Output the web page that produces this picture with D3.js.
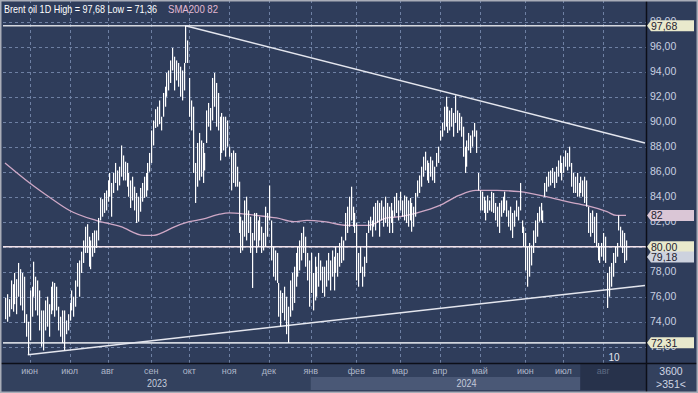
<!DOCTYPE html>
<html><head><meta charset="utf-8">
<script src="https://cdn.jsdelivr.net/npm/d3@7"></script>
<style>html,body{margin:0;padding:0;background:#2f3d5b;overflow:hidden}</style>
</head><body><svg id="c" width="698" height="393"></svg>
<script>
// ---- data (daily bars) ----
const hi = [75.9,76.2,75.8,77.3,77.0,77.9,77.4,78.7,78.2,77.9,77.6,74.6,74.0,76.5,76.8,78.8,77.6,77.3,76.5,74.9,
74.9,75.7,76.0,75.4,76.8,77.2,77.1,76.8,75.2,74.4,74.9,74.9,74.1,74.6,75.5,76.5,76.0,77.3,78.7,78.9,
79.6,80.5,81.6,81.8,80.8,80.5,81.1,81.3,81.3,82.3,83.9,83.8,84.3,84.5,85.3,85.9,85.1,85.9,86.7,86.1,
86.4,88.1,87.3,86.8,86.7,85.9,85.3,85.6,84.8,84.3,84.0,84.7,85.1,85.6,85.9,86.7,87.5,89.3,90.1,91.0,
91.2,91.7,90.4,92.3,92.8,93.9,94.1,94.9,95.9,95.2,94.9,94.7,94.4,94.1,94.7,97.68,96.5,93.5,91.7,91.2,
86.7,88.3,89.1,88.5,88.3,87.5,90.9,91.5,91.1,93.5,93.9,93.1,92.3,90.4,90.7,90.4,90.4,90.1,88.0,87.5,
87.7,87.5,86.4,85.2,82.4,82.1,83.7,84.0,82.9,82.4,81.1,82.7,82.7,82.1,82.4,81.6,81.1,83.2,82.7,84.9,
82.1,80.0,79.7,79.5,77.1,76.5,76.3,76.8,76.0,75.2,77.3,77.9,78.4,79.5,80.0,80.5,81.1,81.6,80.8,79.5,
78.9,79.5,77.9,79.2,78.4,79.5,78.9,78.4,78.4,78.9,79.5,78.9,79.7,79.2,80.0,79.5,80.3,80.8,80.5,82.7,
83.2,84.0,84.8,83.2,82.7,81.9,79.5,80.0,78.4,79.2,81.1,82.1,82.4,82.1,83.2,83.5,83.7,83.5,83.7,83.2,
84.0,83.5,83.2,83.5,82.9,84.0,84.3,83.7,84.4,83.7,84.1,84.0,83.7,83.9,83.5,83.2,84.3,85.3,85.7,86.4,
87.2,87.6,86.9,86.7,87.2,86.9,86.4,87.5,88.0,89.3,89.9,91.2,92.0,91.2,90.9,91.1,90.7,92.1,90.9,90.7,
90.4,89.6,88.0,88.5,89.1,88.9,89.3,89.9,89.3,85.9,84.5,84.4,84.0,83.7,84.1,83.7,84.4,84.3,83.5,83.2,
83.5,83.7,84.0,84.4,83.7,82.9,83.2,82.7,82.9,83.7,83.2,85.1,82.1,81.6,81.1,80.0,80.3,80.1,81.3,82.1,
82.7,83.2,83.5,82.9,85.1,85.6,86.0,86.1,86.3,86.0,86.4,86.9,87.3,86.7,87.2,87.7,87.5,88.0,86.7,85.9,
85.6,85.9,85.1,85.6,85.3,85.6,85.3,83.2,82.7,82.9,82.4,82.7,80.3,80.0,80.3,81.1,80.8,77.9,78.4,78.7,
79.5,80.0,80.3,82.5,81.6,81.3,81.1,80.5];
const lo = [74.2,74.0,74.4,75.0,74.8,75.4,74.6,76.0,75.3,74.9,73.9,72.8,71.36,72.5,74.4,76.0,74.9,74.5,73.3,72.0,
71.7,73.3,73.6,72.8,74.6,74.9,74.4,74.9,73.3,72.8,72.3,71.7,73.0,73.3,74.1,74.9,74.4,75.2,76.8,76.0,
77.9,78.7,79.5,79.5,78.4,78.2,79.2,79.5,79.9,80.5,82.1,82.4,82.7,82.9,83.6,84.0,82.4,84.3,85.1,84.5,
84.9,85.6,85.3,85.3,84.8,84.0,83.1,83.7,82.9,81.9,82.0,82.8,83.6,83.9,84.0,84.5,86.0,86.7,88.1,89.5,
89.6,89.8,89.3,90.4,91.2,92.0,92.5,93.1,94.1,92.5,93.3,92.8,92.0,91.7,92.5,94.7,94.7,90.4,89.3,85.9,
83.5,84.8,85.3,85.6,85.1,86.1,88.3,89.6,89.3,90.1,91.2,89.6,89.3,86.9,87.5,87.7,87.2,88.0,87.2,84.5,
85.1,84.8,84.8,81.1,79.5,79.7,80.8,80.5,81.1,79.5,76.7,80.5,79.5,80.0,80.5,79.5,79.7,80.0,80.8,82.1,
78.9,77.6,77.3,77.1,74.4,73.6,74.7,74.1,73.0,72.31,74.4,74.9,75.5,76.8,77.6,78.1,78.9,79.5,78.4,77.3,
75.2,76.3,74.9,75.7,76.0,76.8,77.3,76.3,76.0,76.8,77.3,76.5,77.6,76.5,77.9,77.6,78.4,78.7,78.9,80.5,
81.1,81.6,82.1,81.6,81.1,77.3,76.8,77.9,76.8,77.6,78.7,81.1,81.3,80.8,81.6,81.3,81.9,80.8,82.1,81.6,
81.9,81.6,81.1,81.9,81.1,82.4,82.7,82.1,82.9,82.4,82.1,81.9,81.6,82.1,81.2,81.6,82.4,84.0,84.3,84.8,
85.6,86.1,85.3,85.1,85.6,85.3,85.1,86.4,86.7,88.5,88.8,89.3,89.6,89.1,89.3,89.6,88.8,89.9,89.1,89.3,
88.8,87.2,85.9,86.4,87.7,87.5,88.0,88.8,87.5,84.5,82.9,82.9,82.7,82.1,82.7,82.9,82.8,82.7,82.1,81.6,
81.1,82.4,82.7,82.9,82.4,81.6,81.3,80.7,81.6,82.4,82.1,82.9,81.1,80.0,78.1,76.8,77.6,78.5,79.5,80.3,
80.8,82.0,82.1,81.9,84.0,84.4,84.8,84.9,85.1,84.7,85.1,85.6,85.9,85.3,85.9,86.4,86.1,86.4,84.8,84.3,
84.3,84.0,84.0,84.3,84.0,83.5,83.2,81.1,80.8,81.1,80.3,80.0,78.9,78.7,79.2,78.9,78.7,75.1,76.0,76.8,
77.6,78.7,79.2,81.3,80.0,79.5,78.7,78.9];
const lastClose = 79.18;
// SMA200 read at sample bars
const smaIdx = [0,13,24,34,48,61,73,78,84,88,97,104,113,118,127,138,143,152,159,168,180,191,201,208,217,229,239,248,259,271,285,296,306,317,322,327];
const smaVal = [86.7,85.1,83.9,82.9,82.1,81.6,80.9,80.9,81.2,81.5,82.0,82.2,82.6,82.7,82.6,82.4,82.3,82.0,82.1,82.0,81.7,81.7,82.3,82.4,82.7,83.3,84.1,84.5,84.5,84.4,84.0,83.6,83.3,82.8,82.5,82.5];
// trendlines: [start bar, start price, end bar, end price]
const trendUpper = [95, 97.68, 337, 88.3];
const trendLower = [12, 71.36, 337, 76.9];
const levels = [97.68, 80.00, 72.31];
const monthIdx = [13,34,54,77,97,118,139,161,185,208,229,250,274,294,315];
const monthLabels = ['июн','июл','авг','сен','окт','ноя','дек','янв','фев','мар','апр','май','июн','июл','авг'];
const yearIdx = [80, 243];
const yearLabels = ['2023','2024'];
const priceTicks = [72,74,76,78,80,82,84,86,88,90,92,94,96,98];

// ---- drawing ----
const W = 698, H = 393;
const plotL = 3, plotR = 646, plotT = 0, plotB = 363;
const svg = d3.select('#c');
const x = d3.scaleLinear().domain([0, hi.length - 1]).range([5, 626]);
const y = d3.scaleLinear().domain([72, 96]).range([346.7, 46.7]);
const fmt = v => d3.format('.2f')(v).replace('.', ',');

svg.append('rect').attr('width', W).attr('height', H).attr('fill', '#2f3d5b');
// bottom axis panel
svg.append('rect').attr('x', 0).attr('y', plotB).attr('width', W).attr('height', H - plotB).attr('fill', '#33415e');
svg.append('rect').attr('x', x(161)).attr('y', 377).attr('width', x(294) + 17 - x(161)).attr('height', 13).attr('fill', '#4a5876');
svg.append('rect').attr('x', x(294) + 17).attr('y', plotB + 1).attr('width', plotR - x(294) - 17).attr('height', 26).attr('fill', '#27324b');

svg.append('defs').append('clipPath').attr('id', 'pc').append('rect')
  .attr('x', plotL).attr('y', plotT).attr('width', plotR - plotL).attr('height', plotB - plotT);
const g = svg.append('g').attr('clip-path', 'url(#pc)');

// grid
g.selectAll('.vg').data(monthIdx).join('line')
  .attr('x1', d => Math.round(x(d)) + 0.5).attr('x2', d => Math.round(x(d)) + 0.5)
  .attr('y1', 0).attr('y2', plotB)
  .attr('stroke', '#6e80a3').attr('stroke-width', 1).attr('stroke-dasharray', '3,3');
g.selectAll('.hg').data(priceTicks).join('line')
  .attr('x1', plotL).attr('x2', plotR)
  .attr('y1', d => Math.round(y(d)) + 0.5).attr('y2', d => Math.round(y(d)) + 0.5)
  .attr('stroke', '#6e80a3').attr('stroke-width', 1).attr('stroke-dasharray', '3,3');

// level lines
const levelColor = ['#d6d8de', '#f2e2ea', '#d0d4dc'];
g.selectAll('.lv').data(levels).join('line')
  .attr('x1', plotL).attr('x2', plotR)
  .attr('y1', d => y(d)).attr('y2', d => y(d))
  .attr('stroke', (d, i) => levelColor[i]).attr('stroke-width', 1.6);

// SMA
const smaPts = smaIdx.map((d, i) => [d, smaVal[i]]);
g.append('path').datum(smaPts)
  .attr('d', d3.line().x(d => x(d[0])).y(d => y(d[1])).curve(d3.curveMonotoneX))
  .attr('fill', 'none').attr('stroke', '#cfa8c6').attr('stroke-width', 1.3);

// trendlines
[trendUpper, trendLower].forEach(t => {
  g.append('line').attr('x1', x(t[0])).attr('y1', y(t[1])).attr('x2', x(t[2])).attr('y2', y(t[3]))
    .attr('stroke', '#e4e6ee').attr('stroke-width', 1.5);
});

// bars
g.selectAll('.bar').data(hi).join('rect')
  .attr('x', (d, i) => Math.round(x(i)))
  .attr('y', d => y(d))
  .attr('width', 1.2)
  .attr('height', (d, i) => Math.max(1, y(lo[i]) - y(d)))
  .attr('fill', '#ffffff');

// frame lines
svg.append('line').attr('x1', plotR + 0.5).attr('x2', plotR + 0.5).attr('y1', 0).attr('y2', H).attr('stroke', '#0c0f18').attr('stroke-width', 1.5);
svg.append('line').attr('x1', 0).attr('x2', W).attr('y1', plotB + 0.5).attr('y2', plotB + 0.5).attr('stroke', '#0c0f18').attr('stroke-width', 1.5);

// right axis labels
svg.selectAll('.pt').data(priceTicks).join('text')
  .attr('x', 650).attr('y', d => y(d) + 3.5)
  .attr('font-family', 'Liberation Sans, Arial, sans-serif').attr('font-size', 10.5)
  .attr('fill', '#c9d0e0').text(d => fmt(d));

// price tags
const tags = [
  {v: levels[0], t: fmt(levels[0]), c: '#e9e9cc'},
  {v: smaVal[smaVal.length - 1], t: String(Math.round(smaVal[smaVal.length - 1] - 0.5)), c: '#dac6d6'},
  {v: levels[1], t: fmt(levels[1]), c: '#e9e9cc'},
  {v: lastClose, t: fmt(lastClose), c: '#cdd2de'},
  {v: levels[2], t: fmt(levels[2]), c: '#e9e9cc'}
];
tags.forEach(d => {
  const yc = y(d.v);
  svg.append('path')
    .attr('d', `M647,${yc} L651,${yc - 5.5} L694,${yc - 5.5} L694,${yc + 5.5} L651,${yc + 5.5} Z`)
    .attr('fill', d.c);
  svg.append('text').attr('x', 651).attr('y', yc + 4)
    .attr('font-family', 'Liberation Sans, Arial, sans-serif').attr('font-size', 10.5)
    .attr('fill', '#1e2230').text(d.t);
});

// legend
const hiMax = d3.max(hi), loMin = d3.min(lo);
svg.append('text').attr('x', 4).attr('y', 13)
  .attr('font-family', 'Liberation Sans, Arial, sans-serif').attr('font-size', 11)
  .attr('fill', '#ffffff').attr('textLength', 153).attr('lengthAdjust', 'spacingAndGlyphs')
  .text(`Brent oil 1D High = ${fmt(hiMax)} Low = ${fmt(loMin)}`);
svg.append('text').attr('x', 168).attr('y', 13)
  .attr('font-family', 'Liberation Sans, Arial, sans-serif').attr('font-size', 11)
  .attr('fill', '#e3b9d3').attr('textLength', 50).attr('lengthAdjust', 'spacingAndGlyphs')
  .text(`SMA200 ${Math.round(smaVal[smaVal.length - 1] - 0.5)}`);

// "10" marker
svg.append('text').attr('x', 614).attr('y', 361).attr('text-anchor', 'middle')
  .attr('font-family', 'Liberation Sans, Arial, sans-serif').attr('font-size', 10)
  .attr('fill', '#e6e8f0').text('10');

// bottom axis
svg.selectAll('.ml').data(monthIdx).join('text')
  .attr('x', d => x(d)).attr('y', 374).attr('text-anchor', 'middle')
  .attr('font-family', 'Liberation Sans, Arial, sans-serif').attr('font-size', 9)
  .attr('fill', (d, i) => i === monthIdx.length - 1 ? '#5d6a84' : '#aeb7c9')
  .text((d, i) => monthLabels[i]);
svg.selectAll('.yl').data(yearIdx).join('text')
  .attr('x', d => x(d)).attr('y', 387).attr('text-anchor', 'middle')
  .attr('font-family', 'Liberation Sans, Arial, sans-serif').attr('font-size', 10.5)
  .attr('fill', '#c4cbdb').attr('textLength', 20).attr('lengthAdjust', 'spacingAndGlyphs')
  .text((d, i) => yearLabels[i]);

// corner box
svg.append('text').attr('x', 671).attr('y', 375).attr('text-anchor', 'middle')
  .attr('font-family', 'Liberation Sans, Arial, sans-serif').attr('font-size', 10.5)
  .attr('fill', '#d0d6e4').text('3600');
svg.append('text').attr('x', 671).attr('y', 388).attr('text-anchor', 'middle')
  .attr('font-family', 'Liberation Sans, Arial, sans-serif').attr('font-size', 10.5)
  .attr('fill', '#d0d6e4').text('>351<');

// outer border
svg.append('rect').attr('x', 0.75).attr('y', 0.75).attr('width', W - 1.5).attr('height', H - 1.5)
  .attr('fill', 'none').attr('stroke', '#a9adb8').attr('stroke-width', 1.5);
</script></body></html>
